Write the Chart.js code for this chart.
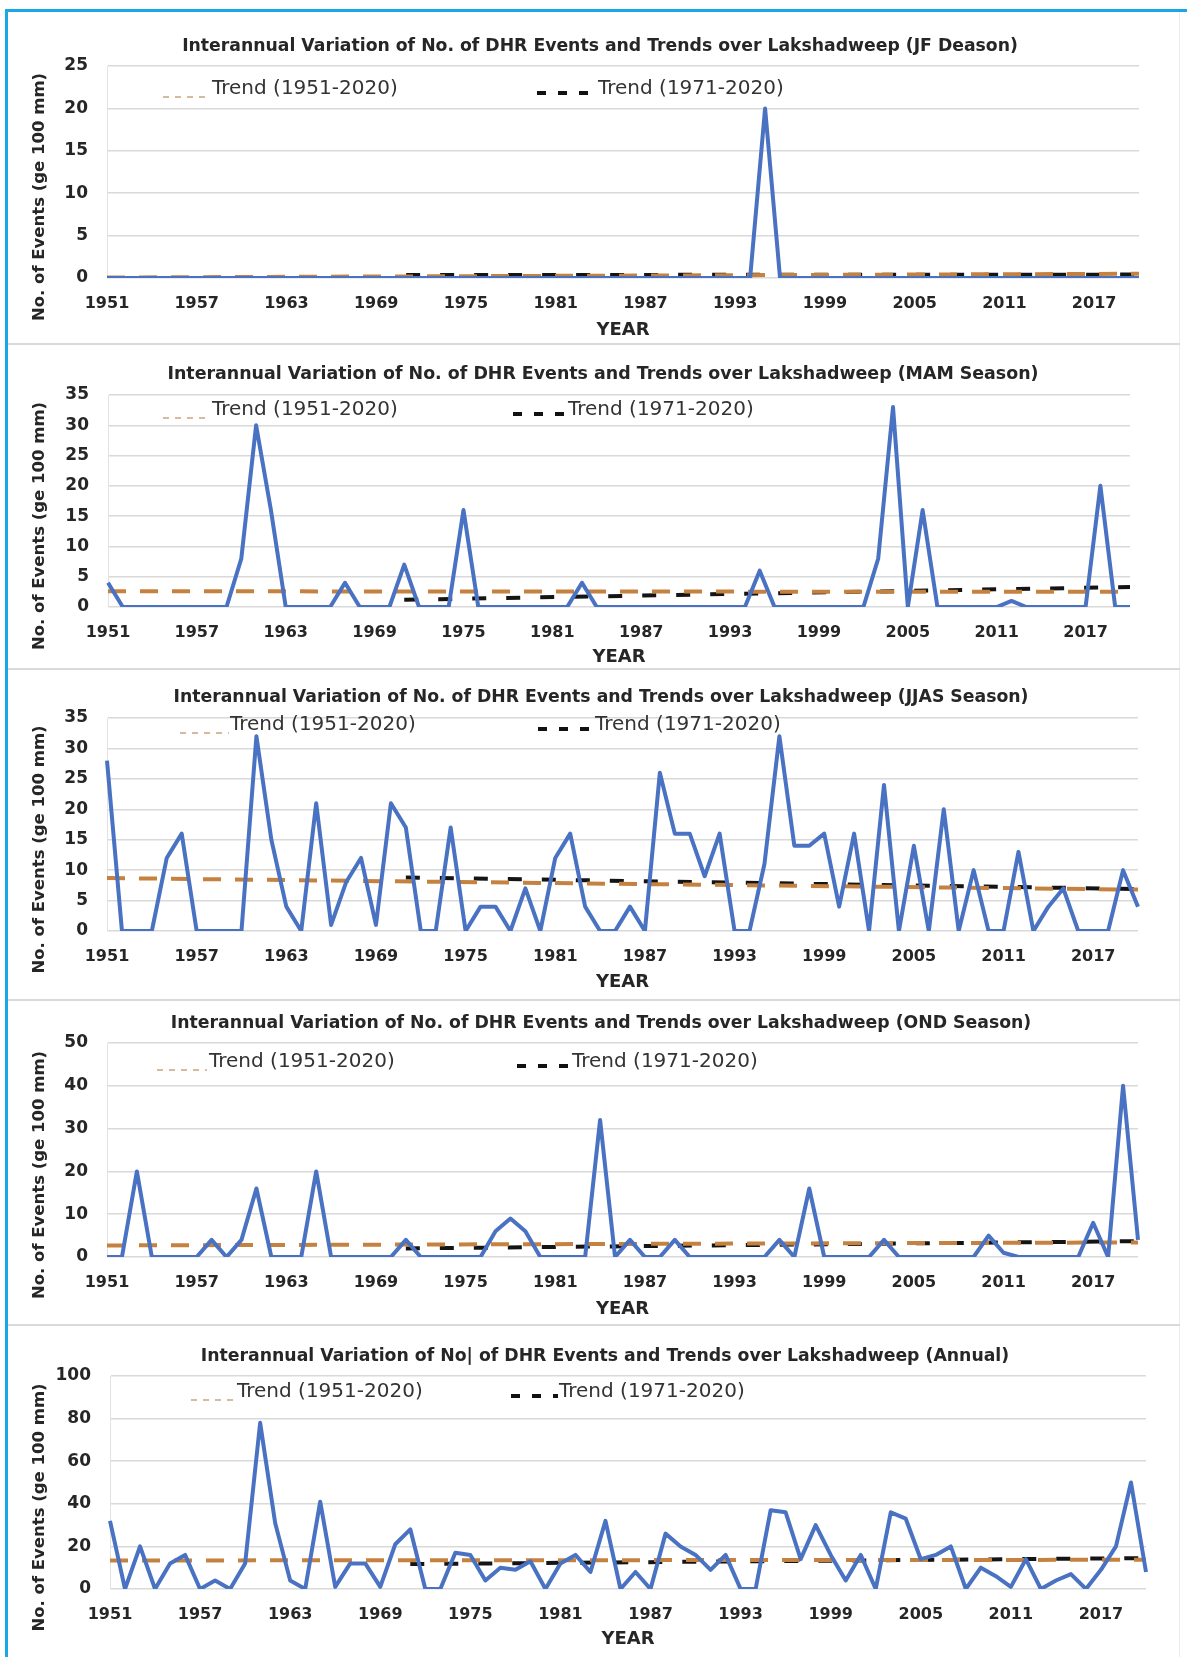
<!DOCTYPE html>
<html>
<head>
<meta charset="utf-8">
<script src="https://cdn.jsdelivr.net/npm/chart.js@4.4.1/dist/chart.umd.min.js"></script>
<style>
  html, body { margin: 0; padding: 0; background: #fff; }
  body { position: relative; width: 1187px; height: 1657px; overflow: hidden; }
  .frame-top { position: absolute; left: 5px; top: 9px; width: 1182px; height: 3px; background: #1ba6e6; }
  .frame-left { position: absolute; left: 5px; top: 9px; width: 3px; height: 1648px; background: #1ba6e6; }
  .frame-right { position: absolute; left: 1179px; top: 12px; width: 1px; height: 1645px; background: #ececec; }
  .sep { position: absolute; left: 8px; width: 1172px; height: 2px; background: #dadada; }
  canvas.panel { position: absolute; left: 8px; }
</style>
</head>
<body>
<div class="frame-top"></div>
<div class="frame-left"></div>
<div class="frame-right"></div>
<div class="sep" style="top:343px"></div>
<div class="sep" style="top:668px"></div>
<div class="sep" style="top:999px"></div>
<div class="sep" style="top:1324px"></div>

<script>
// categories: one per year 1951-2020
const years = Array.from({ length: 70 }, (_, i) => String(1951 + i));
const tickYears = ["1951", "1957", "1963", "1969", "1975", "1981", "1987", "1993", "1999", "2005", "2011", "2017"];

// No. of DHR events (>= 100 mm)
const jfEvents = [
  0, 0, 0, 0, 0, 0, 0, 0, 0, 0,
  0, 0, 0, 0, 0, 0, 0, 0, 0, 0,
  0, 0, 0, 0, 0, 0, 0, 0, 0, 0,
  0, 0, 0, 0, 0, 0, 0, 0, 0, 0,
  0, 0, 0, 0, 20, 0, 0, 0, 0, 0,
  0, 0, 0, 0, 0, 0, 0, 0, 0, 0,
  0, 0, 0, 0, 0, 0, 0, 0, 0, 0,
];
const mamEvents = [
  4, 0, 0, 0, 0, 0, 0, 0, 0, 8,
  30, 16, 0, 0, 0, 0, 4, 0, 0, 0,
  7, 0, 0, 0, 16, 0, 0, 0, 0, 0,
  0, 0, 4, 0, 0, 0, 0, 0, 0, 0,
  0, 0, 0, 0, 6, 0, 0, 0, 0, 0,
  0, 0, 8, 33, 0, 16, 0, 0, 0, 0,
  0, 1, 0, 0, 0, 0, 0, 20, 0, 0,
];
const jjasEvents = [
  28, 0, 0, 0, 12, 16, 0, 0, 0, 0,
  32, 15, 4, 0, 21, 1, 8, 12, 1, 21,
  17, 0, 0, 17, 0, 4, 4, 0, 7, 0,
  12, 16, 4, 0, 0, 4, 0, 26, 16, 16,
  9, 16, 0, 0, 11, 32, 14, 14, 16, 4,
  16, 0, 24, 0, 14, 0, 20, 0, 10, 0,
  0, 13, 0, 4, 7, 0, 0, 0, 10, 4,
];
const ondEvents = [
  0, 0, 20, 0, 0, 0, 0, 4, 0, 4,
  16, 0, 0, 0, 20, 0, 0, 0, 0, 0,
  4, 0, 0, 0, 0, 0, 6, 9, 6, 0,
  0, 0, 0, 32, 0, 4, 0, 0, 4, 0,
  0, 0, 0, 0, 0, 4, 0, 16, 0, 0,
  0, 0, 4, 0, 0, 0, 0, 0, 0, 5,
  1, 0, 0, 0, 0, 0, 8, 0, 40, 4,
];
const annualEvents = [
  32, 0, 20, 0, 12, 16, 0, 4, 0, 12,
  78, 31, 4, 0, 41, 1, 12, 12, 1, 21,
  28, 0, 0, 17, 16, 4, 10, 9, 13, 0,
  12, 16, 8, 32, 0, 8, 0, 26, 20, 16,
  9, 16, 0, 0, 37, 36, 14, 30, 16, 4,
  16, 0, 36, 33, 14, 16, 20, 0, 10, 6,
  1, 14, 0, 4, 7, 0, 9, 20, 50, 8,
];

// linear trends: [value at first year, value at 2020]
const trend5120JF = [0.06, 0.5];
const trend7120JF = [0.35, 0.4];
const trend5120MAM = [2.6, 2.5];
const trend7120MAM = [1.2, 3.3];
const trend5120JJAS = [8.7, 6.8];
const trend7120JJAS = [8.8, 6.9];
const trend5120OND = [2.7, 3.4];
const trend7120OND = [2.0, 3.7];
const trend5120Annual = [13.4, 13.7];
const trend7120Annual = [11.7, 14.5];

const titles = [
  "Interannual Variation of No. of DHR Events and Trends over Lakshadweep (JF Deason)",
  "Interannual Variation of No. of DHR Events and Trends over Lakshadweep (MAM Season)",
  "Interannual Variation of No. of DHR Events and Trends over Lakshadweep (JJAS Season)",
  "Interannual Variation of No. of DHR Events and Trends over Lakshadweep (OND Season)",
  "Interannual Variation of No| of DHR Events and Trends over Lakshadweep (Annual)",
];
const yMax = [25, 35, 35, 50, 100];
const yStep = [5, 5, 5, 10, 20];

// page geometry of each panel (page pixels)
const layout = [
  { top: 12, bottom: 342, left: 107, right: 1139, plotTop: 66, zeroY: 278, titleX: 600, titleY: 47, titleW: 836, yearY: 330, legendY: 89, orangeX: [163, 211], blackX: [537, 597], textX: [212, 598] },
  { top: 345, bottom: 667, left: 108, right: 1130, plotTop: 395, zeroY: 607, titleX: 603, titleY: 374, titleW: 871, yearY: 657, legendY: 410, orangeX: [163, 209], blackX: [513, 566], textX: [212, 568] },
  { top: 670, bottom: 998, left: 107, right: 1138, plotTop: 718, zeroY: 931, titleX: 601, titleY: 698, titleW: 855, yearY: 982, legendY: 725, orangeX: [180, 229], blackX: [538, 594], textX: [230, 595] },
  { top: 1001, bottom: 1323, left: 107, right: 1138, plotTop: 1043, zeroY: 1257, titleX: 601, titleY: 1024, titleW: 861, yearY: 1309, legendY: 1062, orangeX: [157, 207], blackX: [517, 570], textX: [209, 572] },
  { top: 1326, bottom: 1657, left: 110, right: 1146, plotTop: 1376, zeroY: 1589, titleX: 605, titleY: 1357, titleW: 809, yearY: 1639, legendY: 1392, orangeX: [191, 235], blackX: [511, 558], textX: [237, 559] },
];

const series = [jfEvents, mamEvents, jjasEvents, ondEvents, annualEvents];
const trendsAll = [trend5120JF, trend5120MAM, trend5120JJAS, trend5120OND, trend5120Annual];
const trendsRecent = [trend7120JF, trend7120MAM, trend7120JJAS, trend7120OND, trend7120Annual];

const PAGE_LEFT = 8;
const PAGE_WIDTH = 1172;
const TEXT = "#262626";

function trendLine(startYear, ends) {
  const first = years.indexOf(String(startYear));
  const last = years.length - 1;
  return years.map((y, i) => (i === first ? ends[0] : i === last ? ends[1] : null));
}

const panelText = {
  id: "panelText",
  afterDraw(chart, args, opts) {
    const ctx = chart.ctx;
    const p = opts.box;
    const dx = -PAGE_LEFT;
    const dy = -p.top;
    ctx.save();

    // chart title, sized to the width it has in the picture
    ctx.fillStyle = TEXT;
    ctx.textAlign = "center";
    ctx.textBaseline = "middle";
    ctx.font = "bold 15px 'DejaVu Sans'";
    const size = 15 * p.titleW / ctx.measureText(opts.title).width;
    ctx.font = `bold ${size.toFixed(2)}px 'DejaVu Sans'`;
    ctx.fillText(opts.title, p.titleX + dx, p.titleY + dy);

    // axis titles
    ctx.font = "bold 18px 'DejaVu Sans'";
    ctx.fillText("YEAR", (p.left + p.right) / 2 + dx, p.yearY + dy);

    ctx.save();
    ctx.translate(40 + dx, (p.plotTop + p.zeroY) / 2 + 25 + dy);
    ctx.rotate(-Math.PI / 2);
    ctx.font = "bold 16.5px 'DejaVu Sans'";
    ctx.fillText("No. of Events (ge 100 mm)", 0, 0);
    ctx.restore();

    // legend entries sitting inside the plot
    const ly = p.legendY + dy;
    ctx.lineCap = "butt";
    ctx.strokeStyle = "#c9a47f";
    ctx.lineWidth = 1.5;
    ctx.setLineDash([6, 6]);
    ctx.beginPath();
    ctx.moveTo(p.orangeX[0] + dx, ly + 8);
    ctx.lineTo(p.orangeX[1] + dx, ly + 8);
    ctx.stroke();

    ctx.strokeStyle = "#111";
    ctx.lineWidth = 4;
    ctx.setLineDash([9, 12]);
    ctx.beginPath();
    ctx.moveTo(p.blackX[0] + dx, ly + 4);
    ctx.lineTo(p.blackX[1] + dx, ly + 4);
    ctx.stroke();
    ctx.setLineDash([]);

    ctx.font = "20px 'DejaVu Sans'";
    ctx.textAlign = "left";
    ctx.fillStyle = "#333";
    ctx.fillText(chart.data.datasets[1].label, p.textX[0] + dx, ly);
    ctx.fillText(chart.data.datasets[2].label, p.textX[1] + dx, ly);
    ctx.restore();
  },
};

layout.forEach((p, k) => {
  const canvas = document.createElement("canvas");
  canvas.className = "panel";
  const height = p.bottom - p.top;
  canvas.width = PAGE_WIDTH;
  canvas.height = height;
  canvas.style.top = p.top + "px";
  canvas.style.width = PAGE_WIDTH + "px";
  canvas.style.height = height + "px";
  document.body.appendChild(canvas);

  new Chart(canvas, {
    type: "line",
    data: {
      labels: years,
      datasets: [
        {
          label: "No. of Events",
          data: series[k],
          borderColor: "#4a72c2",
          borderWidth: 4,
          borderJoinStyle: "round",
          pointRadius: 0,
          tension: 0,
        },
        {
          label: "Trend (1951-2020)",
          data: trendLine(1951, trendsAll[k]),
          borderColor: "#c5813f",
          borderWidth: 4,
          borderDash: [18, 14],
          spanGaps: true,
          pointRadius: 0,
        },
        {
          label: "Trend (1971-2020)",
          data: trendLine(1971, trendsRecent[k]),
          borderColor: "#141414",
          borderWidth: 4,
          borderDash: [14, 20],
          spanGaps: true,
          pointRadius: 0,
        },
      ],
    },
    options: {
      responsive: false,
      animation: false,
      devicePixelRatio: 1,
      layout: {
        padding: { top: p.plotTop - p.top, right: PAGE_LEFT + PAGE_WIDTH - p.right, bottom: 0, left: 0 },
      },
      plugins: {
        legend: { display: false },
        tooltip: { enabled: false },
        title: { display: false },
        panelText: { box: p, title: titles[k] },
      },
      scales: {
        x: {
          type: "category",
          offset: false,
          grid: { display: false, drawTicks: false },
          border: { display: false },
          ticks: {
            autoSkip: false,
            maxRotation: 0,
            padding: 16,
            color: TEXT,
            font: { family: "DejaVu Sans", weight: "bold", size: 16 },
            callback(value) {
              const label = this.getLabelForValue(value);
              return tickYears.includes(label) ? label : "";
            },
          },
          afterFit(scale) { scale.height = p.bottom - p.zeroY; },
        },
        y: {
          min: 0,
          max: yMax[k],
          grid: { color: "#d9d9d9", lineWidth: 1.5, drawTicks: false },
          border: { display: true, color: "#e2e2e2", width: 1 },
          ticks: {
            stepSize: yStep[k],
            padding: 19,
            color: TEXT,
            font: { family: "DejaVu Sans", weight: "bold", size: 17 },
          },
          afterFit(scale) { scale.width = p.left - PAGE_LEFT; },
        },
      },
    },
    plugins: [panelText],
  });
});
</script>
</body>
</html>
